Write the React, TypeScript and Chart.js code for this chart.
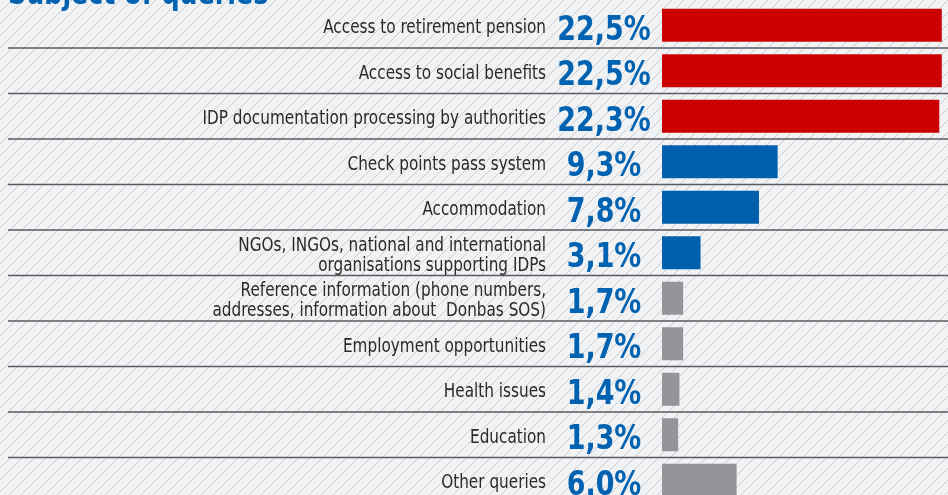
import React, { useEffect, useRef } from "react";
import { Chart, registerables } from "chart.js";

Chart.register(...registerables);

const title = "Subject of queries";
const categories: (string | string[])[] = [
  "Access to retirement pension",
  "Access to social benefits",
  "IDP documentation processing by authorities",
  "Check points pass system",
  "Accommodation",
  ["NGOs, INGOs, national and international", "organisations supporting IDPs"],
  ["Reference information (phone numbers,", "addresses, information about  Donbas SOS)"],
  "Employment opportunities",
  "Health issues",
  "Education",
  "Other queries",
];
const values = [22.5, 22.5, 22.3, 9.3, 7.8, 3.1, 1.7, 1.7, 1.4, 1.3, 6.0];
const valueLabels = ["22,5%", "22,5%", "22,3%", "9,3%", "7,8%", "3,1%", "1,7%", "1,7%", "1,4%", "1,3%", "6.0%"];
const groups = ["red", "red", "red", "blue", "blue", "blue", "grey", "grey", "grey", "grey", "grey"];

const COLORS: Record<string, string> = { red: "#cc0000", blue: "#0060ae", grey: "#939598" };
const FONT = "'DejaVu Sans Condensed', 'DejaVu Sans', sans-serif";

const decorPlugin = {
  id: "decor",
  beforeDraw(chart: any) {
    const { ctx, width, height } = chart;
    ctx.save();
    ctx.fillStyle = "#f1f2f4";
    ctx.fillRect(0, 0, width, height);
    ctx.strokeStyle = "#cbcccf";
    ctx.lineWidth = 1;
    ctx.beginPath();
    for (let x0 = -height; x0 < width + height; x0 += 12) {
      ctx.moveTo(x0, height);
      ctx.lineTo(x0 + height, 0);
    }
    ctx.stroke();
    const ys = chart.scales.y;
    ctx.strokeStyle = "#5a5b5f";
    ctx.lineWidth = 1.4;
    ctx.beginPath();
    for (let i = 1; i < values.length; i++) {
      const py = (ys.getPixelForValue(i - 1) + ys.getPixelForValue(i)) / 2;
      ctx.moveTo(8, py);
      ctx.lineTo(width, py);
    }
    ctx.stroke();
    ctx.restore();
  },
  afterDraw(chart: any) {
    const { ctx } = chart;
    const ys = chart.scales.y;
    const labelRight = ys.right - 116;
    ctx.save();
    // category labels (condensed)
    ctx.fillStyle = "#2a2a2c";
    ctx.textAlign = "right";
    ctx.textBaseline = "alphabetic";
    ctx.font = "19.5px " + FONT;
    categories.forEach((c, i) => {
      const lines = Array.isArray(c) ? c : [c];
      const cy = ys.getPixelForValue(i);
      const lh = 20;
      lines.forEach((ln, k) => {
        const y = cy + (k - (lines.length - 1) / 2) * lh + 8;
        ctx.save();
        ctx.translate(labelRight, y);
        ctx.scale(0.87, 1);
        ctx.fillText(ln, 0, 0);
        ctx.restore();
      });
    });
    // value labels
    ctx.fillStyle = "#0062b0";
    ctx.textAlign = "center";
    ctx.font = "bold 34px " + FONT;
    valueLabels.forEach((t, i) => {
      const cy = ys.getPixelForValue(i);
      ctx.save();
      ctx.translate(labelRight + 58, cy + 14.5);
      ctx.scale(0.88, 1);
      ctx.fillText(t, 0, 0);
      ctx.restore();
    });
    // title
    ctx.textAlign = "left";
    ctx.font = "bold 32px " + FONT;
    ctx.translate(8, 4);
    ctx.scale(0.88, 1);
    ctx.fillText(title, 0, 0);
    ctx.restore();
  },
};

export default function App() {
  const ref = useRef<HTMLCanvasElement>(null);
  useEffect(() => {
    document.body.style.margin = "0";
    const chart = new Chart(ref.current!, {
      type: "bar",
      data: {
        labels: categories,
        datasets: [
          {
            data: values,
            backgroundColor: groups.map((g) => COLORS[g]),
            categoryPercentage: 1,
            barPercentage: 0.725,
            borderWidth: 0,
          },
        ],
      },
      options: {
        indexAxis: "y",
        animation: false,
        responsive: false,
        layout: { autoPadding: false, padding: { top: 2.5, bottom: 0, left: 0, right: 0 } },
        plugins: { legend: { display: false }, tooltip: { enabled: false } },
        scales: {
          x: { display: false, min: 0, max: 23 },
          y: {
            grid: { display: false, drawTicks: false },
            border: { display: false },
            ticks: { display: false },
            afterFit(scale: any) {
              scale.width = 662;
              scale.paddingTop = 0;
              scale.paddingBottom = 0;
            },
          },
        },
      },
      plugins: [decorPlugin],
    });
    return () => chart.destroy();
  }, []);
  return (
    <div style={{ width: 948, height: 495, overflow: "hidden" }}>
      <canvas ref={ref} width={948} height={503} style={{ display: "block" }} />
    </div>
  );
}
